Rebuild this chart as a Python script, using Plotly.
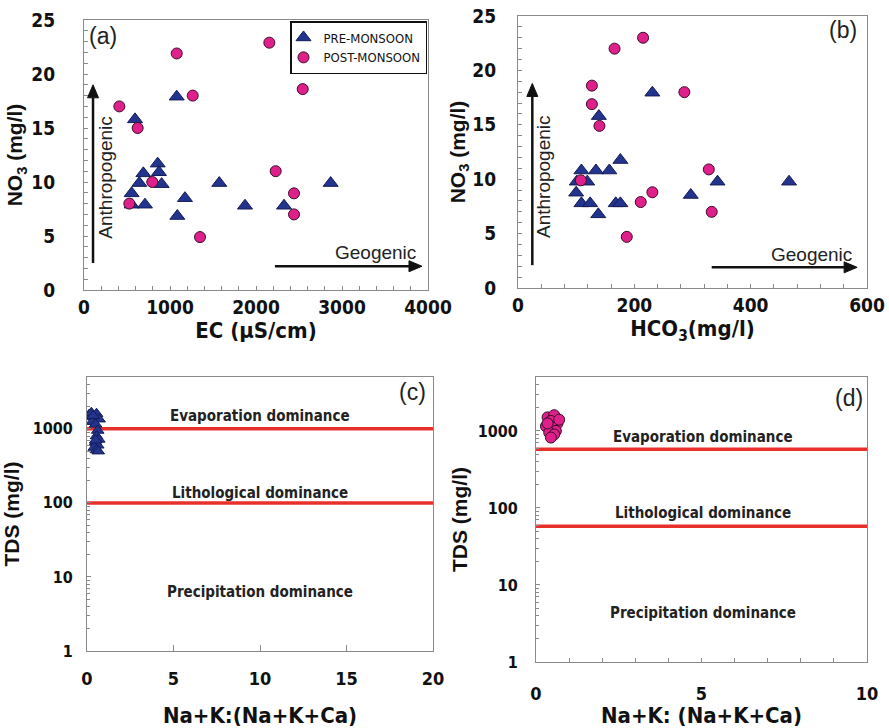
import plotly.graph_objects as go

# ---------------- data ----------------
# (a) NO3 vs EC
ec_pre = [593, 1078, 857, 872, 690, 643, 903, 554, 554, 709, 1174, 1085, 1573, 1872, 2326, 2868]
no3_pre_a = [15.8, 17.9, 11.7, 10.9, 10.8, 9.9, 9.8, 8.95, 7.9, 7.9, 8.5, 6.85, 9.9, 7.8, 7.8, 9.9]
ec_post = [411, 1078, 1264, 624, 794, 527, 1349, 2155, 2543, 2229, 2442, 2442]
no3_post_a = [17.0, 21.9, 18.0, 15.0, 10.0, 8.0, 4.9, 22.9, 18.6, 11.0, 8.95, 7.0]

# (b) NO3 vs HCO3
hco3_pre = [231, 139, 176, 109, 134, 157, 119, 101, 100, 109, 124, 138, 168, 176, 297, 343, 466]
no3_pre_b = [17.95, 15.8, 11.76, 10.8, 10.8, 10.8, 9.77, 9.77, 8.76, 7.78, 7.78, 6.77, 7.78, 7.78, 8.55, 9.77, 9.77]
hco3_post = [215, 166, 127, 127, 140, 286, 108, 231, 211, 328, 333, 187]
no3_post_b = [23.0, 22.0, 18.6, 16.9, 14.9, 18.0, 9.9, 8.8, 7.9, 10.9, 7.0, 4.7]

# (c) Gibbs plot, pre-monsoon
gibbs_x_pre = [0.12, 0.25, 0.38, 0.55, 0.70, 0.30, 0.50, 0.62, 0.55, 0.68, 0.48, 0.62, 0.42, 0.55, 0.65, 0.50, 0.35]
gibbs_tds_pre = [1550, 1650, 1450, 1600, 1350, 1250, 1150, 950, 800, 720, 650, 600, 560, 520, 500, 700, 1500]

# (d) Gibbs plot, post-monsoon
gibbs_x_post = [0.35, 0.55, 0.45, 0.65, 0.30, 0.50, 0.60, 0.40, 0.55, 0.45, 0.70, 0.35]
gibbs_tds_post = [1500, 1600, 1350, 1250, 1150, 1100, 1000, 950, 900, 820, 1400, 1250]

# boundary lines
c_bounds = [1000, 100]
d_bounds = [580, 58]
c_xrange = [0, 20]
d_xrange = [0, 10]

zone_labels = ["Evaporation dominance", "Lithological dominance", "Precipitation dominance"]

# ---------------- styles ----------------
W, H = 889, 728
TRI = "#23348f"
TRI_LINE = "#141c55"
CIR = "#e0208a"
CIR_LINE = "#3b0c2a"
RED = "#e8302a"
FRAME = "#8a8a8a"
COND = "DejaVu Sans Condensed, Liberation Sans, Arial"
SANS = "Liberation Sans, Arial"


def px_x(a, b):
    return [a / W, b / W]


def px_y(top, bottom):
    return [1 - bottom / H, 1 - top / H]


fig = go.Figure()

tri_marker = dict(symbol="triangle-up", size=13, color=TRI, line=dict(color=TRI_LINE, width=1))
cir_marker = dict(symbol="circle", size=11, color=CIR, line=dict(color=CIR_LINE, width=1))

fig.add_trace(go.Scatter(x=ec_pre, y=no3_pre_a, mode="markers", marker=tri_marker,
                         name="PRE-MONSOON", xaxis="x", yaxis="y"))
fig.add_trace(go.Scatter(x=ec_post, y=no3_post_a, mode="markers", marker=cir_marker,
                         name="POST-MONSOON", xaxis="x", yaxis="y"))
fig.add_trace(go.Scatter(x=hco3_pre, y=no3_pre_b, mode="markers", marker=tri_marker,
                         showlegend=False, xaxis="x2", yaxis="y2"))
fig.add_trace(go.Scatter(x=hco3_post, y=no3_post_b, mode="markers", marker=cir_marker,
                         showlegend=False, xaxis="x2", yaxis="y2"))

for v in c_bounds:
    fig.add_trace(go.Scatter(x=c_xrange, y=[v, v], mode="lines", line=dict(color=RED, width=3.5),
                             showlegend=False, xaxis="x3", yaxis="y3", hoverinfo="skip"))
for v in d_bounds:
    fig.add_trace(go.Scatter(x=d_xrange, y=[v, v], mode="lines", line=dict(color=RED, width=3.5),
                             showlegend=False, xaxis="x4", yaxis="y4", hoverinfo="skip"))

fig.add_trace(go.Scatter(x=gibbs_x_pre, y=gibbs_tds_pre, mode="markers",
                         marker=dict(symbol="triangle-up", size=11, color=TRI, line=dict(color=TRI_LINE, width=1)),
                         showlegend=False, xaxis="x3", yaxis="y3"))
fig.add_trace(go.Scatter(x=gibbs_x_post, y=gibbs_tds_post, mode="markers",
                         marker=dict(symbol="circle", size=11, color=CIR, line=dict(color=CIR_LINE, width=1)),
                         showlegend=False, xaxis="x4", yaxis="y4"))

tickfont_ab = dict(family=COND, size=19, color="#111111", weight="bold")
tickfont_cdx = dict(family=COND, size=18, color="#111111", weight="bold")
tickfont_cdy = dict(family=COND, size=16, color="#111111", weight="bold")
titlefont = dict(family=COND, size=22, color="#111111", weight="bold")
ytitlefont = dict(family=SANS, size=21, color="#111111", weight="bold")


def base_axis(**kw):
    d = dict(showline=True, linecolor=FRAME, linewidth=1.2, mirror=True, showgrid=False,
             zeroline=False, ticks="inside", tickcolor=FRAME, ticklen=4, tickwidth=1,
             automargin=False)
    d.update(kw)
    return d


layout = dict(
    width=W, height=H, margin=dict(l=0, r=0, t=0, b=0),
    paper_bgcolor="white", plot_bgcolor="white", showlegend=True,
    xaxis=base_axis(domain=px_x(84, 428), range=[0, 4000], dtick=1000, anchor="y",
                    minor=dict(dtick=200, ticks="inside", ticklen=4, tickcolor=FRAME),
                    tickfont=tickfont_ab, ticklabelstandoff=0,
                    title=dict(text="EC (µS/cm)", font=titlefont, standoff=0)),
    yaxis=base_axis(domain=px_y(20, 290), range=[0, 25], dtick=5, anchor="x",
                    minor=dict(dtick=1, ticks="inside", ticklen=4, tickcolor=FRAME),
                    tickfont=tickfont_ab, ticklabelstandoff=24,
                    title=dict(text="NO<sub>3</sub> (mg/l)", font=ytitlefont, standoff=2)),
    xaxis2=base_axis(domain=px_x(518, 867), range=[0, 600], dtick=200, anchor="y2",
                     minor=dict(dtick=40, ticks="inside", ticklen=4, tickcolor=FRAME),
                     tickfont=tickfont_ab, ticklabelstandoff=0,
                     title=dict(text="HCO<sub>3</sub>(mg/l)", font=titlefont, standoff=0)),
    yaxis2=base_axis(domain=px_y(16, 288), range=[0, 25], dtick=5, anchor="x2",
                     minor=dict(dtick=1, ticks="inside", ticklen=4, tickcolor=FRAME),
                     tickfont=tickfont_ab, ticklabelstandoff=17,
                     title=dict(text="NO<sub>3</sub> (mg/l)", font=ytitlefont, standoff=0)),
    xaxis3=base_axis(domain=px_x(87, 433), range=[0, 20], dtick=5, anchor="y3", ticklen=6,
                     tickfont=tickfont_cdx, ticklabelstandoff=11,
                     title=dict(text="Na+K:(Na+K+Ca)", font=titlefont, standoff=20)),
    yaxis3=base_axis(domain=px_y(377, 651), type="log", range=[0, 3.7], dtick=1, anchor="x3",
                     minor=dict(ticks="inside", ticklen=3, tickcolor=FRAME),
                     tickfont=tickfont_cdy, ticklabelstandoff=10,
                     title=dict(text="TDS (mg/l)", font=ytitlefont, standoff=8)),
    xaxis4=base_axis(domain=px_x(536, 867), range=[0, 10], dtick=5, anchor="y4",
                     minor=dict(dtick=1, ticks="inside", ticklen=4, tickcolor=FRAME),
                     tickfont=tickfont_cdx, ticklabelstandoff=15,
                     title=dict(text="Na+K: (Na+K+Ca)", font=titlefont, standoff=6)),
    yaxis4=base_axis(domain=px_y(377, 662), type="log", range=[0, 3.7], dtick=1, anchor="x4",
                     minor=dict(ticks="inside", ticklen=3, tickcolor=FRAME),
                     tickfont=tickfont_cdy, ticklabelstandoff=14,
                     title=dict(text="TDS (mg/l)", font=ytitlefont, standoff=4)),
    legend=dict(x=427 / W, y=1 - 21 / H, xanchor="right", yanchor="top",
                bordercolor="#111111", borderwidth=1.5, bgcolor="white",
                font=dict(family=COND, size=13, color="#111111"),
                tracegroupgap=0, itemwidth=30, indentation=-8),
)
fig.update_layout(**layout)


# ---------- arrows as shapes ----------
def arrow(xref, yref, x0, y0, x1, y1, ux, uy, head_len=13, head_w=5.5, width=2.5):
    import math
    dx = (x1 - x0) / ux
    dy = (y1 - y0) / uy
    n = math.hypot(dx, dy)
    ex, ey = dx / n, dy / n
    px, py = -ey, ex
    bx = x1 - head_len * ex * ux
    by = y1 - head_len * ey * uy
    shapes = [dict(type="line", xref=xref, yref=yref, x0=x0, y0=y0, x1=bx, y1=by,
                   line=dict(color="#111111", width=width))]
    p1 = (bx + head_w * px * ux, by + head_w * py * uy)
    p2 = (bx - head_w * px * ux, by - head_w * py * uy)
    path = "M {} {} L {} {} L {} {} Z".format(x1, y1, p1[0], p1[1], p2[0], p2[1])
    shapes.append(dict(type="path", xref=xref, yref=yref, path=path,
                       fillcolor="#111111", line=dict(color="#111111", width=1)))
    return shapes


ua_x, ua_y = 4000 / 344, 25 / 270
ub_x, ub_y = 600 / 349, 25 / 272
shapes = []
shapes += arrow("x", "y", 105, 2.5, 105, 19.0, ua_x, ua_y)
shapes += arrow("x", "y", 2220, 2.2, 3930, 2.2, ua_x, ua_y)
shapes += arrow("x2", "y2", 24.6, 2.1, 24.6, 18.8, ub_x, ub_y)
shapes += arrow("x2", "y2", 333, 1.9, 583, 1.9, ub_x, ub_y)
fig.update_layout(shapes=shapes)

annots = []
lab = dict(family=SANS, size=23, color="#222222")
annots.append(dict(text="(a)", x=221, y=23.5, xref="x", yref="y", showarrow=False, font=lab))
annots.append(dict(text="(b)", x=559, y=23.7, xref="x2", yref="y2", showarrow=False, font=lab))
annots.append(dict(text="(c)", x=18.8, y=3.5, xref="x3", yref="y3", showarrow=False, font=lab))
annots.append(dict(text="(d)", x=9.45, y=3.43, xref="x4", yref="y4", showarrow=False, font=lab))

txt = dict(family=SANS, size=19, color="#222222")
annots.append(dict(text="Anthropogenic", x=256, y=10.4, xref="x", yref="y", textangle=-90,
                   showarrow=False, font=txt))
annots.append(dict(text="Geogenic", x=3395, y=3.5, xref="x", yref="y", showarrow=False, font=txt))
annots.append(dict(text="Anthropogenic", x=43, y=10.2, xref="x2", yref="y2", textangle=-90,
                   showarrow=False, font=txt))
annots.append(dict(text="Geogenic", x=504, y=3.1, xref="x2", yref="y2", showarrow=False, font=txt))

zf = dict(family=COND, size=15, color="#222222", weight="bold")
for t, yv in zip(zone_labels, [3.18, 2.13, 0.80]):
    annots.append(dict(text=t, x=10.0, y=yv, xref="x3", yref="y3", showarrow=False, font=zf))
for t, yv in zip(zone_labels, [2.92, 1.93, 0.63]):
    annots.append(dict(text=t, x=5.04, y=yv, xref="x4", yref="y4", showarrow=False, font=zf))

fig.update_layout(annotations=annots)
fig.write_html("out.html")
